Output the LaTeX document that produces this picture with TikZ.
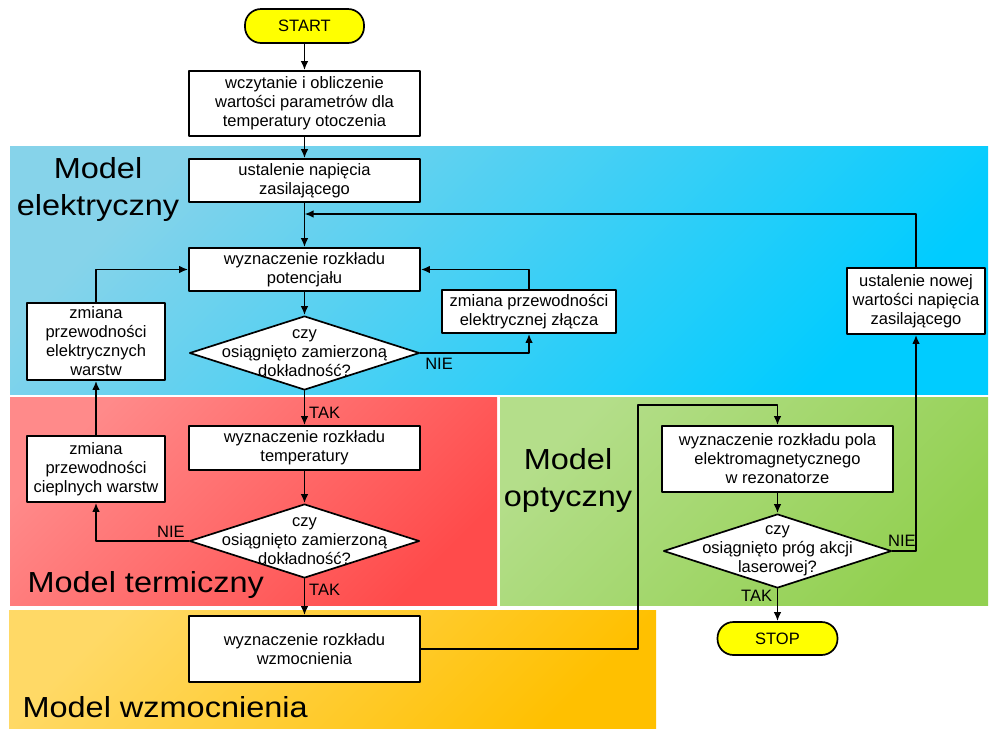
\documentclass[tikz,border=0pt]{standalone}
\usepackage{fontspec}
\setmainfont{Liberation Sans}
\newfontfamily\modelfont{Liberation Sans}[FakeStretch=1.12]
\usepackage{tikz}
\usetikzlibrary{shapes,arrows.meta}
\tikzset{>={Latex[length=9pt,width=7.5pt]}}
\definecolor{elecL}{HTML}{86D3EA}
\definecolor{elecD}{HTML}{00CCFF}
\definecolor{termL}{HTML}{FF8A8A}
\definecolor{termD}{HTML}{FF4B4B}
\definecolor{optL}{HTML}{B4DE8A}
\definecolor{optD}{HTML}{92D050}
\definecolor{wzmL}{HTML}{FFD966}
\definecolor{wzmD}{HTML}{FFC000}
\definecolor{term}{HTML}{FFFF00}

\begin{document}
\begin{tikzpicture}[line cap=round,line join=round,x=1pt,y=-1pt,
	txt/.style={align=center,font=\fontsize{16.5}{19}\selectfont},
	box/.style={txt,draw=black,fill=white,line width=1.7pt,inner sep=2pt,minimum width=231pt},
	sidebox/.style={box,minimum width=138pt},
	decision/.style={draw=black,fill=white,line width=1.7pt,diamond,inner sep=0pt,minimum width=230pt,minimum height=74pt},
	terminal/.style={txt,draw=black,fill=term,line width=1.7pt,rounded corners=16pt,minimum width=119pt,minimum height=34pt},
	model/.style={align=center,font=\modelfont\fontsize{29}{37}\selectfont},
	flow/.style={->,line width=1.7pt},
	tag/.style={font=\fontsize{16.5}{19}\selectfont,inner sep=0pt}]
	\useasboundingbox (0,0) rectangle (989,729);
	\shade[top color=elecL,bottom color=elecD,shading angle=45] (10,146) rectangle (988,394);
	\shade[top color=termL,bottom color=termD,shading angle=45] (10,397) rectangle (497,605);
	\shade[top color=optL,bottom color=optD,shading angle=45] (500,397) rectangle (988,605);
	\shade[top color=wzmL,bottom color=wzmD,shading angle=45] (9,610) rectangle (656,729);
	\node[model] (melec) at (98,189) {Model\\elektryczny};
	\node[model,anchor=base west] (mterm) at (24,592) {Model termiczny};
	\node[model,anchor=base west] (mwzm) at (19,717) {Model wzmocnienia};
	\node[model] (mopt) at (568,480) {Model\\optyczny};
	\node[terminal] (start) at (304.5,26) {START};
	\node[box,minimum height=65pt] (init) at (304.5,103.5) {wczytanie i obliczenie\\wartości parametrów dla\\temperatury otoczenia};
	\node[box,minimum height=43pt] (supply) at (304.5,180.5) {ustalenie napięcia\\zasilającego};
	\node[box,minimum height=43pt] (pot) at (304.5,269.5) {wyznaczenie rozkładu\\potencjału};
	\node[decision] (acc1) at (304.5,353) {};
	\node[txt] (acc1t) at (acc1) {czy\\osiągnięto zamierzoną\\dokładność?};
	\node[sidebox,minimum height=77pt] (elec) at (96,341.5) {zmiana\\przewodności\\elektrycznych\\warstw};
	\node[box,minimum width=174pt,minimum height=43pt] (junct) at (529,311.5) {zmiana przewodności\\elektrycznej złącza};
	\node[sidebox,minimum height=66pt] (newv) at (916,301) {ustalenie nowej\\wartości napięcia\\zasilającego};
	\node[box,minimum height=44pt] (temp) at (304.5,448) {wyznaczenie rozkładu\\temperatury};
	\node[decision] (acc2) at (304.5,541) {};
	\node[txt] (acc2t) at (acc2) {czy\\osiągnięto zamierzoną\\dokładność?};
	\node[sidebox,minimum height=66pt] (therm) at (96,469) {zmiana\\przewodności\\cieplnych warstw};
	\node[box,minimum height=66pt] (gain) at (304.5,649) {wyznaczenie rozkładu\\wzmocnienia};
	\node[box,minimum height=66pt] (field) at (777.5,459) {wyznaczenie rozkładu pola\\elektromagnetycznego\\w rezonatorze};
	\node[decision,minimum width=228pt] (lase) at (777.5,551) {};
	\node[txt] (laset) at (lase) {czy\\osiągnięto próg akcji\\laserowej?};
	\node[terminal,minimum width=120pt,minimum height=33pt] (stop) at (777.5,638.5) {STOP};
	\coordinate (join) at (304.5,214);
	\coordinate (bend) at (638,405);
	\draw[flow] (start) -- (init);
	\draw[flow] (init) -- (supply);
	\draw[flow] (supply) -- (pot);
	\draw[flow] (pot) -- (acc1);
	\draw[flow] (acc1.east) -| (junct.south);
	\draw[flow] (junct.north) |- (pot.east);
	\draw[flow] (elec.north) |- (pot.west);
	\draw[flow] (acc1.south) -- (temp.north);
	\draw[flow] (temp) -- (acc2);
	\draw[flow] (acc2.west) -| (therm.south);
	\draw[flow] (therm.north) -- (elec.south);
	\draw[flow] (acc2.south) -- (gain.north);
	\draw[flow] (gain.east) -| (bend) -| (field.north);
	\draw[flow] (field) -- (lase);
	\draw[flow] (lase.south) -- (stop.north);
	\draw[flow] (lase.east) -| (newv.south);
	\draw[flow] (newv.north) |- (join);
	\node[tag,anchor=base] (nie1) at (439,369) {NIE};
	\node[tag,anchor=base west] (tak1) at (309,418) {TAK};
	\node[tag,anchor=base west] (nie2) at (157,537) {NIE};
	\node[tag,anchor=base west] (tak2) at (309,595) {TAK};
	\node[tag,anchor=base west] (nie3) at (888,546) {NIE};
	\node[tag,anchor=base west] (tak3) at (741,601) {TAK};
\end{tikzpicture}
\end{document}
